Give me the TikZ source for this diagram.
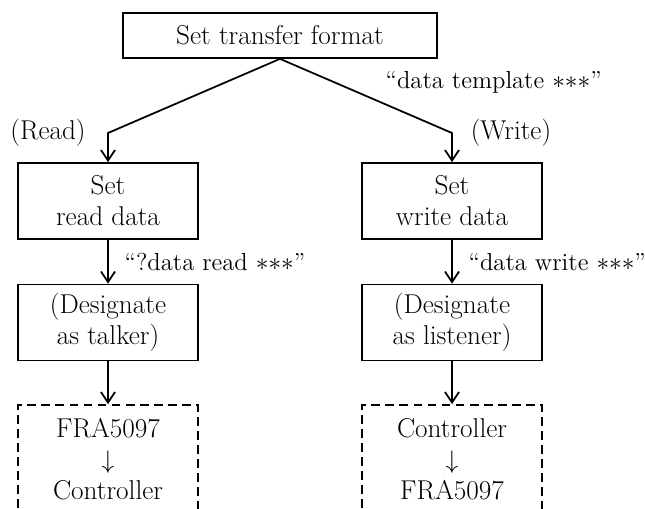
\documentclass[tikz,border=0pt]{standalone}
\usetikzlibrary{arrows.meta}
\newcommand{\stars}{${\ast}{\ast}{\ast}$}
\begin{document}
\begin{tikzpicture}[x=0.02cm,y=-0.02cm, line width=1pt,
  font=\fontsize{15.5}{17.6}\selectfont,
  box/.style={draw, align=center, minimum width=3.6cm, minimum height=1.52cm, inner sep=2pt},
  dbox/.style={box, dash pattern=on 5pt off 3pt, minimum height=2.16cm},
  arr/.style={-{Straight Barb[length=6pt,width=8pt]}},
  quot/.style={anchor=west, font=\fontsize{14}{16}\selectfont}]
\clip (0,0) rectangle (645,509);
\node[draw, minimum width=6.28cm, minimum height=0.9cm] (fmt) at (280,35.5){Set transfer format};
\coordinate (lknee) at (108,133);
\coordinate (rknee) at (452,133);
\node (rdlbl) at (48,133){(Read)};
\node (wrlbl) at (511,133){(Write)};
\node[quot] (tmpl) at (379,82){``data template \stars''};
% read side
\node[box] (rset) at (108,201){Set\\read data};
\node[box] (talk) at (108,322.5){(Designate\\as talker)};
\node[dbox] (rdev) at (108,459){FRA5097\\$\downarrow$\\Controller};
\draw[arr](fmt.south) -- (lknee) -- (rset.north);
\draw[arr](rset) -- node[quot, pos=0.5, xshift=0.2cm]{``?data read \stars''} (talk);
\draw[arr](talk) -- (rdev);
% write side
\node[box] (wset) at (452,201){Set\\write data};
\node[box] (lsn) at (452,322.5){(Designate\\as listener)};
\node[dbox] (wdev) at (452,459){Controller\\$\downarrow$\\FRA5097};
\draw[arr](fmt.south) -- (rknee) -- (wset.north);
\draw[arr](wset) -- node[quot, pos=0.5, xshift=0.2cm]{``data write \stars''} (lsn);
\draw[arr](lsn) -- (wdev);
\end{tikzpicture}
\end{document}
